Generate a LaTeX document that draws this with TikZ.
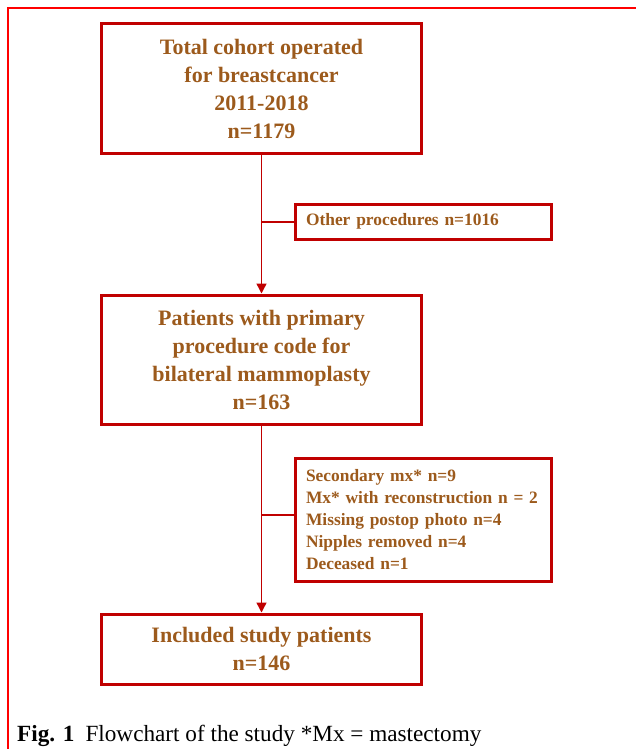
\documentclass[tikz,border=0pt]{standalone}
\usepackage{fontspec}
\setmainfont{Liberation Serif}
\usetikzlibrary{arrows.meta}
\definecolor{boxred}{HTML}{C00000}
\definecolor{txtbrown}{HTML}{9C5A1C}
\definecolor{framered}{HTML}{FF0000}
\begin{document}
\begin{tikzpicture}[x=1pt,y=-1pt,
  bigbox/.style={draw=boxred,line width=3pt,minimum width=320pt,inner sep=0pt,align=center,
    text=txtbrown,font=\bfseries\fontsize{22}{28}\selectfont},
  smallbox/.style={draw=boxred,line width=3pt,minimum width=256pt,inner xsep=11pt,inner ysep=0pt,
    text width=234pt,align=left,text=txtbrown,font=\bfseries\fontsize{17.4}{22}\selectfont},
  conn/.style={draw=boxred,line width=1.4pt},
  arr/.style={conn,-{Triangle[length=10pt,width=10pt]}}]
\useasboundingbox (0,0) rectangle (635,749);
\draw[framered,line width=2pt] (8,760) -- (8,8) -- (640,8);
\node[bigbox,minimum height=130pt] (b1) at (261.5,88.5) {Total cohort operated\\for breastcancer\\2011-2018\\n=1179};
\node[smallbox,minimum height=35pt] (b2) at (423,221.5) {Other procedures n=1016};
\node[bigbox,minimum height=129pt] (b3) at (261.5,359.5) {Patients with primary\\procedure code for\\bilateral mammoplasty\\n=163};
\node[smallbox,minimum height=123pt] (b4) at (423,519.5) {Secondary mx* n=9\\Mx* with reconstruction n = 2\\Missing postop photo n=4\\Nipples removed n=4\\Deceased n=1};
\node[bigbox,minimum height=70pt] (b5) at (261.5,649) {Included study patients\\n=146};
\coordinate (j1) at (261.5,222);
\coordinate (j2) at (261.5,515);
\draw[arr] (b1.south) -- (b3.north);
\draw[arr] (b3.south) -- (b5.north);
\draw[conn] (j1) -- (j1 -| b2.west);
\draw[conn] (j2) -- (j2 -| b4.west);
\node[anchor=base west,font=\fontsize{23.2}{26}\selectfont,inner sep=0pt] (cap) at (17,741) {\textbf{Fig. 1}\hspace{11pt}Flowchart of the study *Mx = mastectomy};
\end{tikzpicture}
\end{document}
